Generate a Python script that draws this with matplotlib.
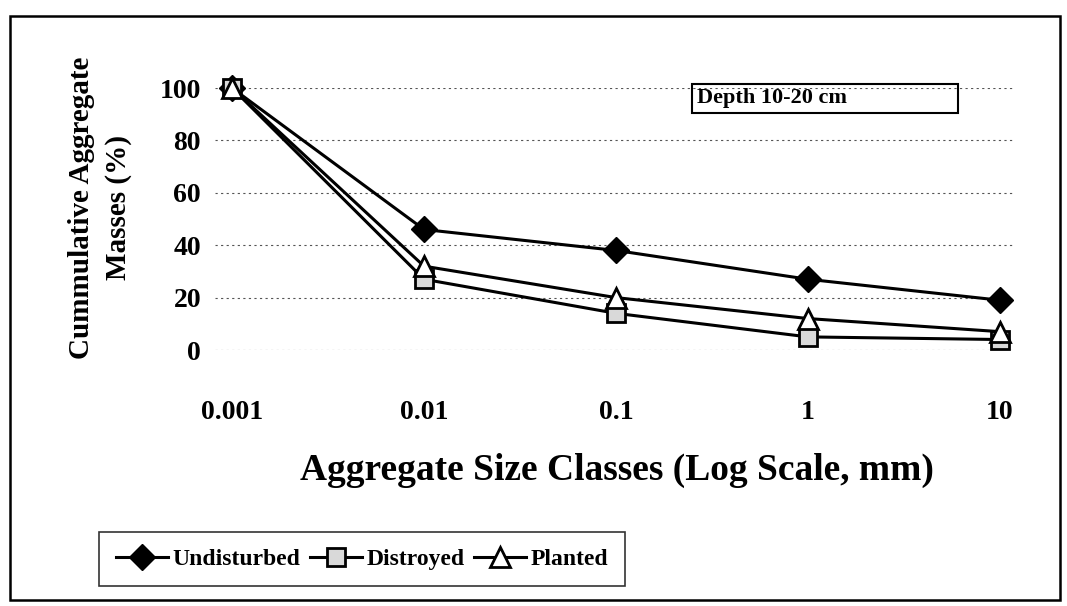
import numpy as np
import matplotlib
matplotlib.use('Agg')
import matplotlib.pyplot as plt
from matplotlib.patches import Rectangle

# data
sizes = [0.001, 0.01, 0.1, 1, 10]
undisturbed = [100, 46, 38, 27, 19]
distroyed = [100, 27, 14, 5, 4]
planted = [100, 32, 20, 12, 7]
yticks = [0, 20, 40, 60, 80, 100]
xticklabels = ['0.001', '0.01', '0.1', '1', '10']

plt.rcParams['font.family'] = ['Liberation Serif', 'DejaVu Serif']

W, H = 1067, 606
fig = plt.figure(figsize=(W / 100, H / 100), dpi=100)

# axes: x 0.001 -> px 232, 10 -> px 1000 ; y 100 -> px 88, 0 -> px 350
ax = fig.add_axes([215 / W, 1 - 350 / H, (1015 - 215) / W, (350 - 88) / H])
dec = (1000 - 232) / 4.0
ax.set_xscale('log')
ax.set_xlim(10 ** (-3 - 17 / dec), 10 ** (1 + 15 / dec))
ax.set_ylim(0, 100)

ax.plot(sizes, undisturbed, color='black', lw=2.2, marker='D', ms=13,
        mfc='black', mec='black', clip_on=False, label='Undisturbed', zorder=3)
ax.plot(sizes, distroyed, color='black', lw=2.2, marker='s', ms=13,
        mfc='#d9d9d9', mec='black', mew=2, clip_on=False, label='Distroyed', zorder=4)
ax.plot(sizes, planted, color='black', lw=2.2, marker='^', ms=14,
        mfc='white', mec='black', mew=2, clip_on=False, label='Planted', zorder=5)

for s in ax.spines.values():
    s.set_visible(False)
ax.set_yticks(yticks)
ax.set_xticks(sizes)
ax.set_xticklabels(xticklabels)
ax.xaxis.set_minor_locator(matplotlib.ticker.NullLocator())
ax.tick_params(axis='both', length=0, labelsize=20)
ax.tick_params(axis='x', pad=36)
ax.tick_params(axis='y', pad=10)
for lab in ax.get_xticklabels() + ax.get_yticklabels():
    lab.set_fontweight('bold')
ax.grid(axis='y', color='#555555', ls=(0, (2, 3)), lw=0.8)

fig.text(100 / W, 1 - 208 / H, 'Cummulative Aggregate\nMasses (%)', rotation=90,
         ha='center', va='center', fontsize=21, fontweight='bold', linespacing=1.45)
fig.text(617 / W, 1 - 470 / H,
         'Aggregate Size Classes (Log Scale, mm)', ha='center', va='center',
         fontsize=27, fontweight='bold')

# depth box
fig.text(697 / W, 1 - 98 / H, 'Depth 10-20 cm', ha='left', va='center',
         fontsize=16, fontweight='semibold')
fig.add_artist(Rectangle((692 / W, 1 - 113 / H), (958 - 692) / W, (113 - 84) / H,
                         transform=fig.transFigure, fill=False, ec='black', lw=1.5))

# legend
leg = fig.legend(loc='center', bbox_to_anchor=(362 / W, 1 - 559 / H), ncol=3,
                 frameon=True, fancybox=False, edgecolor='black',
                 handlelength=2.2, columnspacing=0.4, handletextpad=0.2,
                 borderpad=0.7, prop={'weight': 'bold', 'size': 17})
leg.get_frame().set_linewidth(1.2)

# outer border
fig.add_artist(Rectangle((10 / W, 1 - 600 / H), (1060 - 10) / W, (600 - 16) / H,
                         transform=fig.transFigure, fill=False, ec='black', lw=1.8))

fig.savefig('out.png', dpi=100)
